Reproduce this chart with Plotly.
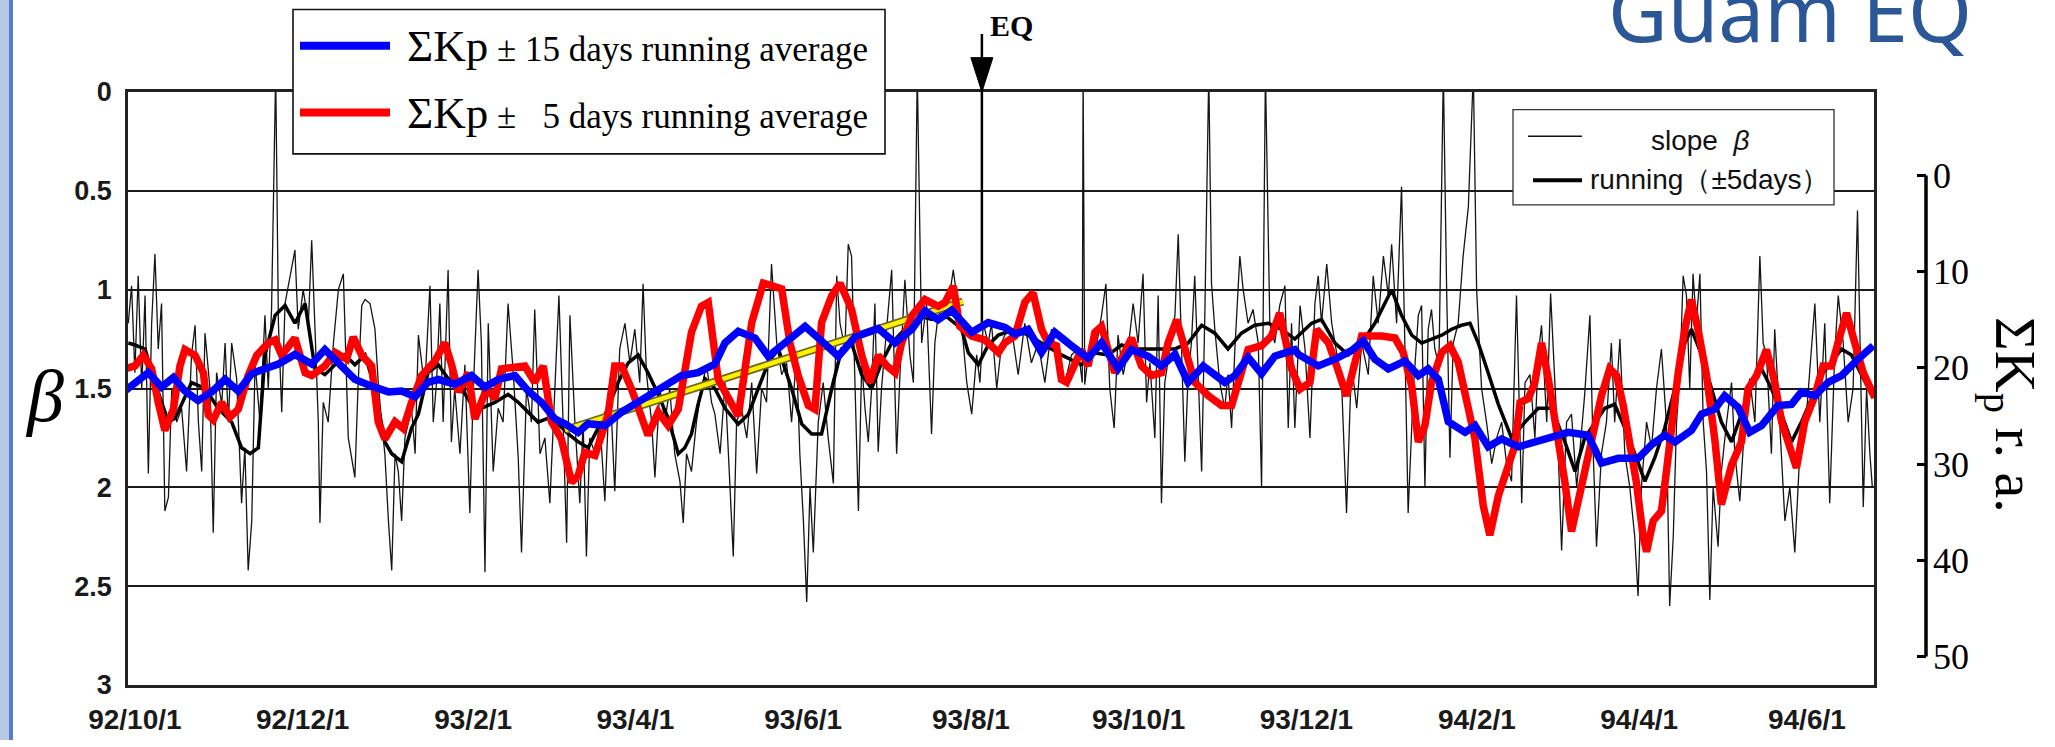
import pandas as pd
import plotly.graph_objects as go

BASE = pd.Timestamp("1992-10-01")

# ---------------- data ----------------
tick_dates = ["1992-10-01", "1992-12-01", "1993-02-01", "1993-04-01", "1993-06-01", "1993-08-01",
              "1993-10-01", "1993-12-01", "1994-02-01", "1994-04-01", "1994-06-01"]
tick_text = ["92/10/1", "92/12/1", "93/2/1", "93/4/1", "93/6/1", "93/8/1",
             "93/10/1", "93/12/1", "94/2/1", "94/4/1", "94/6/1"]
beta_ticks = [0, 0.5, 1, 1.5, 2, 2.5, 3]
beta_ticktext = ["0", "0.5", "1", "1.5", "2", "2.5", "3"]
kp_ticks = [0, 10, 20, 30, 40, 50]

# slope beta (daily, thin black) : (days after 92/10/1, beta)
slope_beta = [
    (-2.4, 1.17), (-1.2, 0.98), (0.0, 1.42), (1.2, 0.93), (2.5, 1.5), (3.7, 1.03), (4.9, 1.93), (6.1, 1.17),
    (7.3, 0.82), (8.5, 1.3), (9.7, 1.07), (10.9, 2.12), (12.2, 2.05), (13.4, 1.5), (15.2, 1.67), (17.0, 1.6),
    (18.8, 1.92), (20.6, 1.33), (21.9, 1.18), (23.1, 1.67), (24.3, 1.92), (25.5, 1.22), (27.3, 1.5), (28.5, 2.23),
    (29.7, 1.42), (31.6, 1.58), (32.8, 1.27), (34.0, 1.67), (35.2, 1.27), (37.0, 1.45), (38.8, 2.08), (40.0, 1.8),
    (41.2, 2.42), (42.5, 2.17), (43.7, 1.37), (45.5, 1.67), (47.3, 1.13), (48.5, 1.5), (49.7, 1.1), (51.2, -0.1),
    (52.2, 1.17), (53.4, 1.62), (54.6, 1.07), (56.4, 0.93), (58.2, 0.8), (59.4, 1.2), (61.2, 1.0), (63.1, 1.17),
    (64.3, 0.75), (65.5, 1.2), (66.7, 1.67), (67.3, 2.18), (68.5, 1.57), (70.3, 1.67), (72.2, 1.27), (74.0, 1.0),
    (75.8, 0.92), (77.6, 1.75), (80.0, 1.95), (81.2, 1.47), (82.5, 1.08), (83.7, 1.05), (85.5, 1.07), (87.3, 1.2),
    (88.5, 1.47), (89.7, 1.67), (90.9, 1.83), (92.2, 2.17), (93.4, 2.42), (94.6, 1.83), (95.8, 1.92), (97.0, 2.17),
    (98.2, 1.75), (100.6, 1.6), (101.9, 1.83), (103.1, 1.23),
    (105.4, 1.5), (107.3, 0.98), (108.5, 1.67), (109.7, 1.47), (110.9, 1.07), (112.1, 1.67), (113.9, 0.9),
    (115.1, 1.77), (116.3, 1.5), (118.2, 1.83), (120.0, 1.38), (121.8, 2.13), (123.0, 1.53), (124.8, 0.9),
    (126.0, 1.27), (127.3, 2.43), (128.5, 1.17), (130.3, 1.92), (132.1, 1.6), (133.9, 1.67), (135.7, 1.07),
    (137.6, 1.42), (139.4, 1.85), (140.6, 2.33), (142.4, 1.5), (144.2, 1.67), (145.4, 1.1), (147.3, 1.83),
    (149.1, 1.75), (150.9, 2.08), (152.7, 1.5), (154.2, 1.03), (155.7, 1.67), (157.0, 2.28), (158.2, 1.13),
    (160.0, 1.67), (161.8, 2.08), (163.0, 1.67), (164.2, 2.35), (165.4, 1.75), (167.3, 1.83), (169.1, 1.67),
    (170.9, 2.07), (172.7, 1.45), (174.5, 2.02), (176.3, 1.3), (178.2, 1.17), (180.0, 1.37), (181.8, 1.2),
    (183.6, 1.47), (184.8, 0.97), (186.0, 1.42), (187.9, 1.67), (189.1, 1.95), (190.9, 1.5), (192.7, 1.67),
    (194.5, 1.5), (196.3, 1.83), (198.2, 1.97), (199.4, 2.18), (200.6, 1.83), (202.4, 1.92), (204.2, 1.67),
    (206.0, 1.5), (207.9, 1.38), (209.7, 1.57),
    (210.9, 1.63), (212.8, 1.83), (214.6, 1.47), (216.4, 1.97), (217.6, 2.35), (218.8, 1.67), (220.6, 1.6),
    (222.5, 1.75), (224.3, 1.47), (226.1, 1.93), (227.9, 1.5), (229.7, 1.57), (231.5, 0.87), (233.4, 1.27),
    (235.2, 1.43), (237.0, 1.37), (238.8, 1.67), (240.6, 1.33), (241.8, 1.83), (243.1, 2.17), (244.3, 2.58),
    (245.5, 2.0), (246.7, 2.33), (248.5, 1.67), (250.3, 1.47), (252.1, 1.75), (254.0, 1.98), (255.2, 0.93),
    (256.4, 1.17), (258.2, 1.3), (259.4, 0.77), (260.6, 0.83), (261.8, 1.5), (263.1, 2.12), (264.3, 1.37),
    (265.5, 1.6), (266.7, 1.77), (267.9, 1.5), (269.1, 1.07), (270.3, 1.82), (271.5, 1.5), (273.4, 1.2),
    (275.2, 0.9), (277.0, 1.83), (278.2, 1.43), (280.0, 0.95), (281.8, 1.33), (283.1, 1.47), (284.5, -0.1),
    (286.1, 1.27), (287.9, 1.07), (289.7, 1.73), (290.9, 1.27), (292.1, 1.13), (294.0, 1.1), (295.8, 1.07),
    (297.6, 0.9), (298.8, 1.03), (300.6, 1.17), (302.5, 1.47), (304.3, 1.63), (306.1, 1.33), (307.3, 1.47),
    (308.5, 1.17), (310.3, 1.27), (311.5, 1.17), (313.4, 1.5), (315.2, 1.27),
    (316.3, 1.23), (318.8, 1.2), (321.2, 1.43), (323.6, 1.17), (326.0, 1.37), (328.5, 1.27), (330.9, 1.47),
    (333.3, 1.2), (335.7, 1.37), (338.2, 1.47), (340.6, 1.33), (343.0, 1.3), (344.5, 1.47), (344.8, -0.1),
    (345.4, 1.48), (347.2, 1.27), (349.1, 1.33), (351.5, 1.13), (353.1, 0.97), (354.5, 1.5), (356.1, 1.7),
    (357.5, 1.23), (359.4, 1.43), (361.2, 1.3), (363.0, 1.07), (364.8, 1.27), (366.6, 0.92), (367.9, 1.57),
    (369.1, 1.37), (370.9, 1.75), (372.1, 1.03), (373.3, 2.08), (374.5, 1.47), (376.3, 1.3), (378.2, 1.13),
    (379.4, 0.72), (380.6, 1.33), (381.8, 1.87), (383.0, 1.43), (384.2, 1.27), (385.4, 0.93), (386.6, 1.37),
    (387.9, 1.92), (389.1, 1.1), (390.5, -0.1), (391.5, 0.97), (392.7, 1.2), (394.5, 1.47), (396.3, 1.6),
    (397.5, 1.43), (398.8, 1.7), (400.0, 1.3), (401.8, 0.83), (403.0, 1.0), (404.8, 1.17), (406.6, 1.1),
    (408.5, 1.27), (409.7, 2.0), (411.1, -0.1), (412.7, 1.17), (414.5, 1.27), (416.3, 1.08), (418.2, 0.98),
    (419.4, 1.7), (420.6, 1.17),
    (421.8, 1.7), (423.7, 1.08), (425.5, 1.3), (427.3, 1.75), (429.1, 1.07), (430.3, 0.93), (431.5, 1.17),
    (433.4, 0.87), (435.2, 1.17), (437.0, 1.33), (438.8, 1.47), (440.6, 2.13), (442.4, 1.37), (444.3, 1.6),
    (446.1, 1.27), (448.5, 1.43), (450.3, 0.93), (452.1, 1.17), (454.0, 0.83), (455.8, 1.03), (457.0, 0.77),
    (458.8, 1.17), (460.6, 0.48), (461.8, 1.27), (463.0, 2.13), (464.9, 1.5), (466.7, 1.13), (467.9, 1.08),
    (469.1, 2.0), (470.3, 1.2), (471.5, 1.1), (472.7, 1.3), (474.2, 1.38), (475.8, -0.1), (477.0, 1.0),
    (478.2, 1.85), (479.4, 1.27), (481.2, 1.17), (483.0, 0.83), (484.9, 0.58), (486.7, -0.1), (487.9, 1.0),
    (489.7, 1.5), (491.5, 1.67), (493.4, 1.88), (495.2, 1.75), (497.0, 1.67), (498.8, 1.88), (500.6, 1.97),
    (502.4, 1.03), (504.3, 2.08), (505.5, 1.47), (507.3, 1.43), (509.1, 1.75), (510.3, 1.33), (511.5, 1.18),
    (513.4, 1.67), (514.8, 1.02), (516.4, 1.47), (517.6, 1.83), (518.8, 2.32), (520.6, 1.67), (522.4, 1.63),
    (524.3, 2.0),
    (527.2, 1.53), (529.1, 1.13), (530.3, 1.83), (531.5, 2.3), (533.3, 1.83), (535.1, 1.67), (536.9, 1.27),
    (538.1, 1.67), (540.0, 1.25), (541.8, 1.83), (543.6, 2.0), (545.4, 2.25), (546.6, 2.55), (547.8, 2.0),
    (549.7, 1.67), (551.5, 1.8), (553.3, 1.5), (555.1, 1.3), (556.9, 1.67), (558.1, 2.6), (559.4, 2.25),
    (560.6, 1.67), (561.8, 1.43), (563.0, 0.93), (564.2, 1.03), (565.4, 1.5), (566.6, 0.92), (567.8, 1.17),
    (569.1, 0.92), (570.3, 1.67), (571.5, 1.92), (572.7, 2.57), (573.9, 2.0), (575.7, 2.3), (576.9, 1.92),
    (578.8, 1.67), (580.6, 1.47), (581.8, 1.83), (583.6, 2.07), (585.4, 1.67), (587.2, 1.45), (589.1, 1.67),
    (590.9, 0.83), (592.1, 1.27), (593.3, 1.33), (595.1, 1.83), (596.3, 1.2), (598.1, 1.67), (600.0, 2.17),
    (601.8, 2.0), (603.6, 2.33), (605.4, 1.83), (607.2, 1.75), (609.1, 1.4), (610.9, 1.07), (612.7, 1.67),
    (614.5, 1.17), (616.3, 2.08), (618.1, 1.33), (619.4, 1.03), (621.2, 1.27), (623.0, 1.67), (624.8, 1.5),
    (626.4, 0.6), (627.2, 1.17), (628.5, 2.1), (629.7, 1.5), (630.9, 1.83), (631.8, 2.0),
]

# running average of beta (+-5 days, thick black)
running_beta = [
    (-2.4, 1.27), (0.0, 1.28), (3.7, 1.3), (7.3, 1.47), (12.2, 1.67), (14.6, 1.65), (17.0, 1.58), (20.6, 1.47),
    (25.5, 1.5), (30.3, 1.6), (35.2, 1.67), (38.8, 1.8), (41.9, 1.83), (44.9, 1.8), (47.3, 1.33), (51.0, 1.13),
    (54.6, 1.08), (58.2, 1.17), (61.9, 1.07), (65.5, 1.4), (69.1, 1.43), (72.8, 1.38), (76.4, 1.33), (80.0, 1.38),
    (83.7, 1.33), (87.3, 1.5), (90.9, 1.77), (93.4, 1.83), (97.0, 1.87), (100.6, 1.7), (103.1, 1.63),
    (106.6, 1.42), (110.3, 1.38), (113.9, 1.45), (118.8, 1.5), (122.4, 1.58), (126.0, 1.6), (130.9, 1.57),
    (135.7, 1.53), (139.4, 1.57), (143.0, 1.62), (146.6, 1.67), (150.3, 1.65), (153.9, 1.68), (157.6, 1.73),
    (161.2, 1.77), (164.8, 1.8), (168.5, 1.7), (172.1, 1.6), (175.7, 1.47), (179.4, 1.37), (183.0, 1.33),
    (186.6, 1.42), (190.3, 1.53), (193.9, 1.65), (197.6, 1.83), (200.0, 1.8), (202.4, 1.73), (204.8, 1.58),
    (207.3, 1.45), (210.9, 1.5), (214.6, 1.6), (219.4, 1.68), (223.1, 1.63), (226.7, 1.5), (230.3, 1.37),
    (234.0, 1.3), (238.8, 1.5), (242.5, 1.68), (246.1, 1.73), (249.7, 1.73), (253.4, 1.5), (257.0, 1.3),
    (260.6, 1.27), (264.3, 1.43), (267.9, 1.5), (271.5, 1.37), (275.2, 1.27), (280.0, 1.2), (284.9, 1.13),
    (289.7, 1.15), (294.6, 1.13), (298.2, 1.17), (300.6, 1.2), (303.1, 1.32), (306.7, 1.38), (310.3, 1.28),
    (314.0, 1.23), (320.0, 1.2), (324.8, 1.23), (329.7, 1.27), (336.9, 1.33), (344.2, 1.38), (349.1, 1.32),
    (353.9, 1.33), (358.8, 1.28), (363.6, 1.3), (368.5, 1.3), (373.3, 1.3), (378.2, 1.3), (383.0, 1.27),
    (387.9, 1.18), (392.7, 1.22), (397.5, 1.3), (402.4, 1.22), (407.2, 1.18), (412.1, 1.17), (416.9, 1.2),
    (421.8, 1.25), (427.9, 1.17), (431.5, 1.15), (436.4, 1.27), (441.2, 1.33), (446.1, 1.27), (450.9, 1.17),
    (454.6, 1.07), (457.0, 1.0), (460.6, 1.13), (464.3, 1.23), (467.9, 1.27), (471.5, 1.25), (475.2, 1.23),
    (478.8, 1.2), (482.4, 1.18), (485.5, 1.17), (488.5, 1.27), (492.1, 1.42), (495.8, 1.58), (500.6, 1.75),
    (505.5, 1.67), (510.3, 1.6), (515.2, 1.6), (520.0, 1.77), (523.7, 1.92), (527.2, 1.75), (530.9, 1.67),
    (534.5, 1.6), (538.1, 1.58), (541.8, 1.7), (545.4, 1.83), (549.1, 1.97), (552.7, 1.85), (556.3, 1.7),
    (560.0, 1.5), (563.6, 1.27), (566.0, 1.2), (569.7, 1.33), (573.3, 1.5), (576.9, 1.67), (580.6, 1.77),
    (584.2, 1.63), (587.8, 1.47), (591.5, 1.4), (595.1, 1.5), (598.8, 1.63), (602.4, 1.77), (606.0, 1.67),
    (609.7, 1.55), (613.3, 1.43), (616.9, 1.37), (620.6, 1.3), (624.2, 1.33), (627.8, 1.43), (631.5, 1.53),
]

# Sum Kp +-5 days running average (red, right axis)
kp_5day = [
    (-3.6, 20.1), (0.0, 19.8), (3.1, 18.7), (6.1, 20.1), (8.5, 23.6), (10.9, 26.5), (14.0, 24.3), (16.4, 19.8),
    (18.2, 18.1), (21.9, 18.7), (24.9, 20.5), (26.7, 24.9), (28.5, 25.4), (31.6, 23.6), (34.6, 25.1),
    (37.6, 24.3), (41.2, 20.8), (44.3, 18.7), (48.5, 17.4), (51.0, 17.1), (53.4, 18.7), (58.2, 16.9),
    (61.9, 20.5), (64.3, 20.8), (69.1, 19.8), (72.8, 18.4), (77.0, 19.1), (79.4, 16.8), (82.5, 18.7),
    (86.1, 19.8), (88.5, 25.6), (90.9, 27.4), (94.6, 25.6), (97.6, 26.3), (100.6, 23.6), (104.3, 20.8),
    (109.1, 19.3), (112.7, 17.4), (115.1, 19.6), (117.6, 22.5), (121.2, 20.5), (123.6, 25.3), (127.9, 22.2),
    (130.9, 23.2), (133.3, 20.1), (138.2, 19.9), (141.8, 19.8), (145.4, 21.5), (148.5, 19.8), (151.5, 25.6),
    (155.1, 27.4), (158.8, 31.9), (161.2, 31.2), (163.6, 28.8), (167.3, 29.1), (169.7, 27.0), (172.1, 24.8),
    (174.5, 19.8), (177.0, 19.8), (180.6, 22.2), (184.2, 25.3), (186.6, 27.0), (190.3, 24.6), (193.9, 26.0),
    (197.6, 24.3), (200.0, 20.1), (202.4, 16.3), (206.0, 13.6), (208.5, 13.2), (212.1, 21.2), (219.4, 25.0),
    (224.3, 15.3), (228.5, 11.2), (235.2, 11.8), (238.2, 17.4), (241.2, 20.8), (244.9, 23.9), (247.3, 24.3),
    (249.7, 15.3), (253.4, 12.5), (256.4, 11.2), (260.6, 13.9), (264.3, 18.7), (267.3, 21.5), (270.3, 18.7),
    (273.4, 19.8), (276.4, 20.5), (278.8, 17.4), (282.5, 14.6), (287.3, 12.9), (292.1, 13.6), (294.6, 13.2),
    (297.6, 11.5), (300.0, 15.7), (304.3, 16.7), (309.1, 17.1), (314.0, 18.4), (316.3, 17.4), (320.0, 16.7),
    (323.6, 13.2), (326.6, 12.2), (329.7, 16.0), (332.1, 17.4), (335.1, 17.7), (336.9, 21.2), (338.8, 21.5),
    (341.8, 19.8), (344.2, 18.1), (346.6, 19.8), (349.1, 16.3), (351.5, 15.7), (354.5, 18.4), (356.3, 20.5),
    (359.4, 18.7), (362.4, 16.9), (366.0, 19.8), (369.7, 20.8), (373.3, 20.5), (375.7, 17.4), (378.8, 15.0),
    (381.8, 18.1), (385.4, 21.5), (390.3, 22.9), (395.1, 23.9), (398.8, 23.9), (401.8, 21.2), (404.8, 18.1),
    (409.7, 17.7), (413.3, 16.7), (416.3, 14.3), (419.4, 18.7), (420.6, 20.1), (423.7, 22.2), (427.3, 21.5),
    (429.7, 16.0), (431.5, 16.7), (434.0, 17.4), (437.0, 19.8), (440.6, 22.9), (443.7, 19.4), (446.1, 16.7),
    (449.7, 16.7), (453.4, 16.7), (458.2, 16.9), (461.2, 18.4), (464.3, 21.9), (466.7, 27.7), (469.1, 26.0),
    (471.5, 21.5), (475.2, 18.4), (478.2, 17.7), (481.2, 19.4), (484.3, 23.2), (487.3, 27.4), (490.3, 34.3),
    (492.7, 37.4), (495.8, 33.3), (498.8, 30.8), (501.8, 28.1), (503.7, 23.6), (506.7, 23.2), (509.1, 21.5),
    (511.5, 17.4), (514.0, 21.2), (517.0, 26.3), (520.0, 31.9), (522.4, 37.0), (526.0, 32.5), (528.4, 29.1),
    (530.9, 25.6), (533.3, 22.9), (536.3, 20.1), (538.8, 20.8), (541.2, 23.9), (543.6, 27.7), (546.0, 31.9),
    (548.4, 37.4), (549.7, 39.1), (552.1, 35.9), (555.1, 34.9), (556.9, 30.8), (558.8, 25.6), (561.2, 20.5),
    (563.6, 16.0), (566.0, 12.9), (568.4, 16.0), (571.5, 20.8), (574.5, 27.4), (576.9, 34.2), (580.6, 30.1),
    (584.2, 27.7), (586.6, 22.2), (589.7, 20.8), (593.3, 18.1), (596.3, 21.5), (598.8, 25.6), (601.8, 28.4),
    (604.2, 30.4), (607.2, 25.6), (610.9, 22.9), (613.9, 19.8), (617.0, 19.8), (620.0, 16.7), (622.4, 14.3),
    (625.4, 17.4), (628.5, 20.5), (632.7, 23.1),
]

# Sum Kp +-15 days running average (blue, right axis)
kp_15day = [
    (-3.6, 22.4), (0.0, 21.5), (4.9, 20.5), (9.7, 22.0), (14.0, 21.0), (18.2, 22.4), (23.0, 23.4), (27.9, 22.5),
    (32.8, 21.2), (37.6, 22.4), (42.5, 20.6), (47.3, 20.1), (52.2, 19.6), (58.2, 18.6), (64.3, 19.6),
    (69.1, 18.1), (74.0, 19.4), (80.0, 21.2), (86.1, 21.9), (92.2, 22.5), (97.0, 22.4), (101.9, 23.0),
    (106.6, 21.5), (110.3, 21.2), (116.3, 21.7), (122.4, 20.8), (127.3, 22.0), (132.1, 21.2), (138.2, 20.8),
    (143.0, 22.4), (147.9, 23.6), (152.7, 25.3), (156.3, 25.8), (161.2, 26.7), (164.8, 25.8), (170.9, 26.0),
    (177.0, 24.6), (181.8, 23.8), (186.6, 23.0), (192.7, 21.9), (198.8, 20.8), (204.8, 20.5), (210.9, 19.6),
    (214.6, 17.4), (219.4, 16.2), (225.5, 16.9), (230.3, 18.8), (236.4, 17.4), (243.7, 15.7), (248.5, 16.9),
    (255.8, 18.8), (261.8, 16.8), (270.3, 15.9), (276.4, 17.4), (282.5, 16.0), (287.3, 14.1), (292.1, 15.0),
    (297.0, 14.0), (301.2, 15.3), (304.3, 16.3), (310.3, 15.3), (316.4, 15.8), (320.0, 16.5), (324.8, 16.0),
    (329.7, 18.4), (334.5, 16.3), (340.6, 17.7), (346.6, 19.0), (351.5, 17.4), (357.5, 20.1), (362.4, 18.1),
    (368.5, 18.8), (373.3, 19.8), (378.2, 18.6), (383.0, 21.5), (388.5, 19.8), (396.3, 21.5), (400.0, 20.8),
    (404.8, 18.9), (409.7, 20.6), (414.5, 18.8), (421.8, 18.1), (423.1, 18.6), (430.3, 19.8), (436.4, 19.1),
    (442.4, 18.2), (446.7, 17.2), (450.9, 19.1), (455.8, 20.1), (461.8, 19.3), (466.7, 20.8), (470.3, 20.1),
    (474.0, 21.2), (477.6, 25.6), (483.7, 26.7), (487.3, 26.0), (492.1, 28.2), (497.0, 27.4), (503.1, 28.2),
    (509.1, 27.7), (515.2, 27.2), (521.2, 26.7), (528.4, 27.0), (533.3, 29.9), (539.4, 29.4), (546.6, 29.4),
    (551.5, 28.0), (556.3, 27.0), (560.0, 27.7), (566.0, 26.5), (569.7, 24.8), (574.5, 24.3), (578.1, 22.9),
    (583.0, 24.1), (587.2, 26.7), (591.5, 26.0), (597.5, 23.9), (602.4, 23.8), (606.0, 22.5), (610.9, 22.9),
    (615.7, 21.5), (620.6, 20.8), (626.6, 19.1), (632.1, 17.7),
]

# yellow trend line before the earthquake
trend_days = [156.4, 301.1]
trend_beta = [1.71, 1.06]
eq_day = 308          # Guam earthquake marker
x_range_days = [-2.5, 632.4]


def to_dates(days):
    return [BASE + pd.Timedelta(days=float(d)) for d in days]


def split(pairs):
    return [p[0] for p in pairs], [p[1] for p in pairs]


# ---------------- layout geometry (pixels) ----------------
W, H = 2055, 747
L, R, T, B = 128, 100, 92, 51
PW, PH = W - L - R, H - T - B


def px(x):
    return (x - L) / PW


def py(y):
    return (H - B - y) / PH


fig = go.Figure()

d, v = split(slope_beta)
fig.add_trace(go.Scatter(x=to_dates(d), y=v, mode="lines", line=dict(color="#151515", width=1.3),
                         showlegend=False, name="slope β"))
d, v = split(running_beta)
fig.add_trace(go.Scatter(x=to_dates(d), y=v, mode="lines", line=dict(color="#000000", width=3.5),
                         showlegend=False, name="running (±5days)"))
d, v = split(kp_5day)
fig.add_trace(go.Scatter(x=to_dates(d), y=v, yaxis="y2", mode="lines",
                         line=dict(color="#FF0000", width=7.5), showlegend=False,
                         name="ΣKp ± 5 days running average"))
d, v = split(kp_15day)
fig.add_trace(go.Scatter(x=to_dates(d), y=v, yaxis="y2", mode="lines",
                         line=dict(color="#0000FF", width=7.5), showlegend=False,
                         name="ΣKp ± 15 days running average"))
fig.add_trace(go.Scatter(x=to_dates(trend_days), y=trend_beta, mode="lines",
                         line=dict(color="#6F6A1A", width=8), showlegend=False, hoverinfo="skip"))
fig.add_trace(go.Scatter(x=to_dates(trend_days), y=trend_beta, mode="lines",
                         line=dict(color="#FFF200", width=4.5), showlegend=False, name="trend"))

eq_date = to_dates([eq_day])[0]

shapes = [
    # left blue strip
    dict(type="rect", xref="paper", yref="paper", x0=px(0), x1=px(9), y0=py(H + 5), y1=py(-5),
         fillcolor="#B7C9E6", line=dict(width=0), layer="above"),
    dict(type="rect", xref="paper", yref="paper", x0=px(9), x1=px(13), y0=py(H + 5), y1=py(-5),
         fillcolor="#5580C4", line=dict(width=0), layer="above"),
    # top-left legend box
    dict(type="rect", xref="paper", yref="paper", x0=px(293), x1=px(885), y0=py(155), y1=py(8),
         fillcolor="white", line=dict(color="#111", width=1.6), layer="above"),
    dict(type="line", xref="paper", yref="paper", x0=px(300), x1=px(390), y0=py(45), y1=py(45),
         line=dict(color="#0000FF", width=8), layer="above"),
    dict(type="line", xref="paper", yref="paper", x0=px(300), x1=px(390), y0=py(113), y1=py(113),
         line=dict(color="#FF0000", width=8), layer="above"),
    # inner legend box
    dict(type="rect", xref="paper", yref="paper", x0=px(1513), x1=px(1834), y0=py(207), y1=py(110),
         fillcolor="white", line=dict(color="#333", width=1.3), layer="above"),
    dict(type="line", xref="paper", yref="paper", x0=px(1528), x1=px(1582), y0=py(137), y1=py(137),
         line=dict(color="#111", width=1.5), layer="above"),
    dict(type="line", xref="paper", yref="paper", x0=px(1533), x1=px(1582), y0=py(182), y1=py(182),
         line=dict(color="#000", width=4), layer="above"),
    # right axis line (0-50 only)
    dict(type="line", xref="paper", yref="y2", x0=px(1926), x1=px(1926), y0=0, y1=50,
         line=dict(color="#000", width=3.5), layer="above"),
    # EQ arrow shaft and head
    dict(type="line", xref="x", yref="paper", x0=eq_date, x1=eq_date, y0=py(327), y1=py(33),
         line=dict(color="#000", width=2.5), layer="above"),
    dict(type="path", xref="x", xsizemode="pixel", xanchor=eq_date, yref="paper",
         path=f"M -11,{py(57)} L 11,{py(57)} L 0,{py(92)} Z",
         fillcolor="#000", line=dict(color="#000", width=1), layer="above"),
]

leg_font = dict(family="Liberation Serif", size=35, color="#000")
sans = dict(family="Liberation Sans", size=28, color="#111")
annotations = [
    dict(xref="paper", yref="paper", x=px(1790), y=py(68), xanchor="center", yanchor="bottom",
         text="Guam EQ", showarrow=False,
         font=dict(family="Noto Sans", size=82, color="#2B5797")),
    dict(xref="paper", yref="paper", x=px(1011), y=py(24), xanchor="center", yanchor="middle",
         text="<b>EQ</b>", showarrow=False, font=dict(family="Liberation Serif", size=30, color="#000")),
    dict(xref="paper", yref="paper", x=px(44), y=py(402), xanchor="center", yanchor="middle",
         text="<i>β</i>", showarrow=False, font=dict(family="Liberation Serif", size=74, color="#000")),
    dict(xref="paper", yref="paper", x=px(2012), y=py(421), xanchor="center", yanchor="middle",
         text="ΣK<sub>p</sub> r. a.", textangle=90, showarrow=False,
         font=dict(family="Liberation Serif", size=58, color="#000")),
    dict(xref="paper", yref="paper", x=px(405), y=py(45), xanchor="left", yanchor="middle",
         text='<span style="font-size:45px">ΣKp</span> ± 15 days running average', showarrow=False,
         font=leg_font),
    dict(xref="paper", yref="paper", x=px(405), y=py(113), xanchor="left", yanchor="middle",
         text='<span style="font-size:45px">ΣKp</span> ±\u00a0\u00a0 5 days running average',
         showarrow=False, font=leg_font),
    dict(xref="paper", yref="paper", x=px(1700), y=py(141), xanchor="center", yanchor="middle",
         text="slope\u00a0\u00a0<i>β</i>", showarrow=False, font=sans),
    dict(xref="paper", yref="paper", x=px(1588), y=py(181), xanchor="left", yanchor="middle",
         text="running（±5days）", showarrow=False, font=sans),
]

xtick_font = dict(family="Liberation Sans", size=28, color="#1a1a1a", weight="bold")
ytick_font = dict(family="Liberation Sans", size=27, color="#1a1a1a", weight="bold")
fig.update_layout(
    width=W, height=H,
    margin=dict(l=L, r=R, t=T, b=B, pad=0),
    paper_bgcolor="white", plot_bgcolor="white",
    showlegend=False,
    xaxis=dict(type="date", domain=[0, px(1874)],
               range=to_dates(x_range_days),
               tickvals=tick_dates, ticktext=tick_text, tickfont=xtick_font,
               ticks="", ticklabelstandoff=8, showgrid=False, zeroline=False,
               showline=True, mirror=True, linecolor="#222", linewidth=2.5),
    yaxis=dict(range=[3, 0], tickvals=beta_ticks, ticktext=beta_ticktext, tickfont=ytick_font,
               ticks="", ticklabelstandoff=8, showgrid=True, gridcolor="#1a1a1a", gridwidth=1.6,
               zeroline=False, showline=True, mirror=True, linecolor="#222", linewidth=2.5),
    yaxis2=dict(overlaying="y", side="right", anchor="free", position=px(1926),
                range=[52.96, -8.67], tickvals=kp_ticks, ticktext=[str(t) for t in kp_ticks],
                tickfont=dict(family="Liberation Serif", size=36, color="#000"),
                ticks="inside", ticklen=9, tickwidth=3, tickcolor="#000", ticklabelstandoff=6,
                showgrid=False, zeroline=False, showline=False),
    shapes=shapes,
    annotations=annotations,
)

fig.write_html("out.html")
